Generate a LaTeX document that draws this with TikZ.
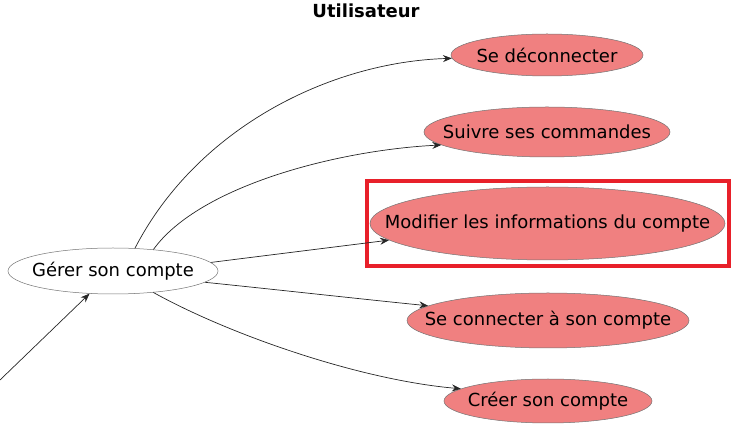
\documentclass[tikz,border=0pt]{standalone}
\usepackage{fontspec}
\setmainfont{DejaVu Sans}
\usetikzlibrary{shapes.geometric,arrows.meta}
\definecolor{uc}{HTML}{F08080}
\definecolor{hl}{HTML}{E8202A}
\begin{document}
\begin{tikzpicture}[x=1pt,y=-1pt,
  txt/.style={font=\fontsize{18}{21}\selectfont,inner sep=0pt},
  usecase/.style={ellipse,draw=black!55,line width=0.5pt,fill=uc,inner sep=0pt,label={[txt]center:#1}},
  plain/.style={ellipse,draw=black!55,line width=0.5pt,fill=white,inner sep=0pt,label={[txt]center:#1}},
  link/.style={draw=black!85,line width=0.7pt,-{Stealth[length=9pt,width=7pt,inset=3pt]}}]
\useasboundingbox (0,0) rectangle (732,427);
\node[font=\bfseries\fontsize{18}{21}\selectfont] (title) at (366,11) {Utilisateur};
\node[plain={Gérer son compte},minimum width=210,minimum height=46] (g) at (113,271) {};
\node[usecase={Se déconnecter},minimum width=192,minimum height=42] (d) at (547,55) {};
\node[usecase={Suivre ses commandes},minimum width=246,minimum height=50] (s) at (547,132) {};
\node[usecase={Modifier les informations du compte},minimum width=355,minimum height=73] (m) at (547.5,223.5) {};
\node[usecase={Se connecter à son compte},minimum width=282,minimum height=55] (c) at (548,320.5) {};
\node[usecase={Créer son compte},minimum width=208,minimum height=44] (r) at (548,401) {};
\node[draw=hl,line width=4pt,minimum width=362,minimum height=85,inner sep=0pt] (box) at (547.5,223.5) {};
\coordinate (src) at (0,380);
\draw[link] (src) -- (g);
\draw[link] (g.46) .. controls (197,128) and (330,62) .. (d.182);
\draw[link] (g.28) .. controls (200,185) and (340,150) .. (s.187);
\draw[link] (g.5) -- (m.186);
\draw[link] (g.-7) .. controls (280,290) and (370,300) .. (c.173);
\draw[link] (g.-28) .. controls (230,335) and (360,380) .. (r.172);
\end{tikzpicture}
\end{document}
